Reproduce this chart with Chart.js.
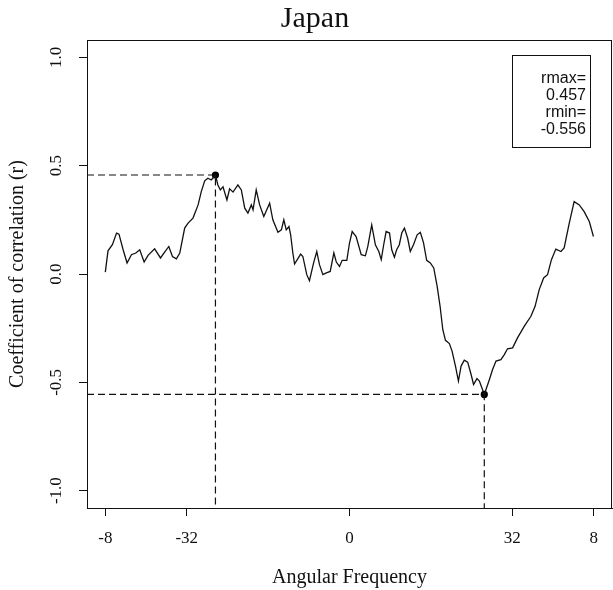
<!DOCTYPE html>
<html>
<head>
<meta charset="utf-8">
<script src="https://cdn.jsdelivr.net/npm/chart.js@4/dist/chart.umd.min.js"></script>
<style>
  html, body { margin: 0; padding: 0; background: #fff; }
  #c { display: block; }
</style>
</head>
<body>
<canvas id="c" width="613" height="590"></canvas>
<script>
// Correlation between the two series across the angular frequency band
const freq = [-1.000,-0.989,-0.971,-0.954,-0.944,-0.927,-0.911,-0.893,-0.875,-0.859,-0.841,-0.825,-0.798,-0.774,-0.757,-0.740,-0.725,-0.709,-0.695,-0.675,-0.661,-0.641,-0.620,-0.607,-0.593,-0.580,-0.566,-0.549,-0.539,-0.529,-0.518,-0.502,-0.491,-0.477,-0.457,-0.443,-0.429,-0.416,-0.402,-0.395,-0.382,-0.368,-0.351,-0.327,-0.314,-0.293,-0.279,-0.269,-0.259,-0.248,-0.241,-0.232,-0.225,-0.214,-0.200,-0.191,-0.175,-0.164,-0.147,-0.134,-0.123,-0.109,-0.095,-0.079,-0.064,-0.054,-0.041,-0.030,-0.011,0.000,0.011,0.027,0.048,0.065,0.075,0.091,0.106,0.120,0.130,0.140,0.150,0.164,0.173,0.184,0.193,0.204,0.214,0.225,0.238,0.249,0.262,0.277,0.290,0.303,0.316,0.331,0.345,0.359,0.371,0.382,0.393,0.409,0.420,0.434,0.446,0.457,0.470,0.484,0.498,0.508,0.522,0.532,0.552,0.573,0.586,0.600,0.620,0.634,0.647,0.668,0.688,0.716,0.743,0.760,0.777,0.795,0.811,0.827,0.845,0.866,0.879,0.900,0.920,0.941,0.961,0.982,0.999];
const corr = [0.009,0.107,0.135,0.189,0.184,0.112,0.051,0.089,0.097,0.112,0.055,0.086,0.116,0.074,0.101,0.127,0.081,0.070,0.097,0.212,0.235,0.258,0.319,0.380,0.430,0.442,0.434,0.457,0.411,0.388,0.402,0.342,0.393,0.378,0.411,0.388,0.304,0.281,0.319,0.296,0.388,0.319,0.265,0.327,0.250,0.193,0.204,0.250,0.204,0.219,0.181,0.097,0.046,0.066,0.092,0.081,-0.003,-0.031,0.051,0.104,0.043,-0.003,0.005,0.012,0.097,0.055,0.035,0.063,0.063,0.143,0.196,0.173,0.089,0.084,0.127,0.227,0.135,0.104,0.066,0.135,0.196,0.189,0.112,0.078,0.112,0.135,0.189,0.212,0.166,0.104,0.135,0.181,0.192,0.145,0.063,0.051,0.028,-0.057,-0.149,-0.256,-0.306,-0.321,-0.356,-0.425,-0.494,-0.425,-0.398,-0.407,-0.464,-0.510,-0.483,-0.494,-0.556,-0.487,-0.441,-0.402,-0.395,-0.372,-0.345,-0.341,-0.295,-0.241,-0.195,-0.149,-0.072,-0.018,-0.003,0.066,0.115,0.104,0.120,0.235,0.334,0.319,0.288,0.242,0.173];

// Extremes of r and the frequencies where they occur
const rmax = 0.457;
const rmaxFreq = -0.549;
const rmin = -0.556;
const rminFreq = 0.552;

// Axis ticks
const xTickValues = [-1, -2 / 3, 0, 2 / 3, 1];
const xTickLabels = ['-8', '-32', '0', '32', '8'];
const yTickValues = [-1, -0.5, 0, 0.5, 1];

const xLimits = [-1.075, 1.075];
const yLimits = [-1.08, 1.08];

const serif = '"Liberation Serif", "Times New Roman", serif';
const sans = '"Liberation Sans", Arial, sans-serif';
const ink = '#111';

const curve = [];
const n = Math.min(freq.length, corr.length);
for (let i = 0; i < n; i++) curve.push({ x: freq[i], y: corr[i] });

// Plot frame, main title and the r-range note box
const framePlugin = {
  id: 'frame',
  afterDraw(chart) {
    const { ctx, chartArea: a } = chart;
    ctx.save();
    ctx.strokeStyle = ink;
    ctx.lineWidth = 1;
    const l = Math.round(a.left) + 0.5, t = Math.round(a.top) + 0.5;
    const r = Math.round(a.right) - 0.5, b = Math.round(a.bottom) + 0.5;
    ctx.strokeRect(l, t, r - l, b - t);

    ctx.fillStyle = ink;
    ctx.font = '30px ' + serif;
    ctx.textAlign = 'center';
    ctx.textBaseline = 'alphabetic';
    ctx.fillText('Japan', 315, 27);

    ctx.strokeRect(512.5, 55.5, 78, 92);
    ctx.font = '16px ' + sans;
    ctx.textAlign = 'right';
    ctx.textBaseline = 'middle';
    const lines = ['rmax=', rmax.toFixed(3), 'rmin=', rmin.toFixed(3)];
    lines.forEach((s, i) => ctx.fillText(s, 586, 79 + i * 16.7));
    ctx.restore();
  }
};

new Chart(document.getElementById('c'), {
  type: 'scatter',
  data: {
    datasets: [
      {
        data: curve,
        showLine: true,
        borderColor: ink,
        borderWidth: 1.3,
        pointRadius: 0,
        tension: 0
      },
      {
        data: [{ x: xLimits[0], y: rmax }, { x: rmaxFreq, y: rmax }, { x: rmaxFreq, y: yLimits[0] }],
        showLine: true,
        borderColor: ink,
        borderWidth: 1.2,
        borderDash: [7, 4],
        pointRadius: 0
      },
      {
        data: [{ x: xLimits[0], y: rmin }, { x: rminFreq, y: rmin }, { x: rminFreq, y: yLimits[0] }],
        showLine: true,
        borderColor: ink,
        borderWidth: 1.2,
        borderDash: [7, 4],
        pointRadius: 0
      },
      {
        data: [{ x: rmaxFreq, y: rmax }, { x: rminFreq, y: rmin }],
        showLine: false,
        pointRadius: 3.6,
        pointBackgroundColor: '#000',
        pointBorderColor: '#000',
        pointBorderWidth: 0
      }
    ]
  },
  options: {
    responsive: false,
    animation: false,
    events: [],
    layout: { autoPadding: false, padding: { top: 40, right: 1, bottom: 0, left: 0 } },
    plugins: {
      legend: { display: false },
      tooltip: { enabled: false },
      title: { display: false }
    },
    scales: {
      x: {
        type: 'linear',
        min: xLimits[0],
        max: xLimits[1],
        afterBuildTicks(scale) { scale.ticks = xTickValues.map(v => ({ value: v })); },
        afterFit(scale) {
          scale.height = 82;
          scale.paddingLeft = 0;
          scale.paddingRight = 0;
        },
        ticks: {
          autoSkip: false,
          maxRotation: 0,
          padding: 12,
          color: ink,
          font: { family: serif, size: 17 },
          callback: (v, i) => xTickLabels[i]
        },
        grid: { drawOnChartArea: false, drawTicks: true, tickLength: 8, color: ink, lineWidth: 1 },
        border: { display: true, color: ink, width: 1 },
        title: {
          display: true,
          text: 'Angular Frequency',
          color: ink,
          font: { family: serif, size: 20 },
          padding: { top: 0, bottom: 0 }
        }
      },
      y: {
        type: 'linear',
        min: yLimits[0],
        max: yLimits[1],
        afterBuildTicks(scale) { scale.ticks = yTickValues.map(v => ({ value: v })); },
        afterFit(scale) {
          scale.width = 87;
          scale.paddingTop = 0;
          scale.paddingBottom = 0;
        },
        ticks: {
          autoSkip: false,
          minRotation: 90,
          maxRotation: 90,
          crossAlign: 'center',
          padding: 9,
          color: ink,
          font: { family: serif, size: 17 },
          callback: v => Number(v).toFixed(1)
        },
        grid: { drawOnChartArea: false, drawTicks: true, tickLength: 8, color: ink, lineWidth: 1 },
        border: { display: true, color: ink, width: 1 },
        title: {
          display: true,
          text: 'Coefficient of correlation (r)',
          color: ink,
          font: { family: serif, size: 20 },
          padding: { top: 6, bottom: 0 }
        }
      }
    }
  },
  plugins: [framePlugin]
});
</script>
</body>
</html>
